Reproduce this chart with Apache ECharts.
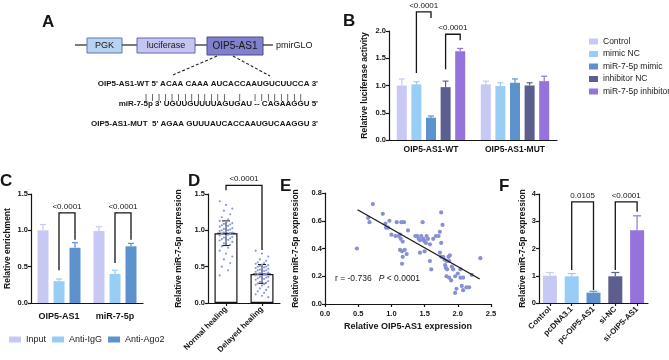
<!DOCTYPE html>
<html><head><meta charset="utf-8">
<script src="https://cdn.jsdelivr.net/npm/echarts@6/dist/echarts.min.js"></script>
<style>html,body{margin:0;padding:0;background:#fff}#c{width:669px;height:360px}</style>
</head><body><div id="c"></div>
<script>
const FF = "'Liberation Sans', Arial, Helvetica, sans-serif";
const INK = '#151515';

// ---------- Panel B : luciferase ----------
const bCategories = ['OIP5-AS1-WT', 'OIP5-AS1-MUT'];
const bGroups = ['Control', 'mimic NC', 'miR-7-5p mimic', 'inhibitor NC', 'miR-7-5p inhibitor'];
const bControl = [1.00, 1.02];
const bMimicNC = [1.02, 0.99];
const bMimic = [0.41, 1.05];
const bInhibitorNC = [0.97, 1.00];
const bInhibitor = [1.63, 1.08];
const bControlSD = [0.12, 0.06];
const bMimicNCSD = [0.05, 0.06];
const bMimicSD = [0.03, 0.07];
const bInhibitorNCSD = [0.11, 0.05];
const bInhibitorSD = [0.05, 0.09];
const bBrackets = [
  {catL: 0, l: 1, catR: 0, r: 2, top: 2.35, lEnd: 1.23, rEnd: 2.24, label: '<0.0001'},
  {catL: 0, l: 3, catR: 0, r: 4, top: 1.94, lEnd: 1.30, rEnd: 1.83, label: '<0.0001'}
];

// ---------- Panel C : RIP ----------
const cCategories = ['OIP5-AS1', 'miR-7-5p'];
const cGroups = ['Input', 'Anti-IgG', 'Anti-Ago2'];
const cInput = [1.00, 0.99];
const cAntiIgG = [0.30, 0.40];
const cAntiAgo2 = [0.76, 0.78];
const cInputSD = [0.08, 0.06];
const cAntiIgGSD = [0.03, 0.05];
const cAntiAgo2SD = [0.07, 0.04];
const cBrackets = [
  {catL: 0, l: 1, catR: 0, r: 2, top: 1.24, lEnd: 0.45, rEnd: 0.87, label: '<0.0001'},
  {catL: 1, l: 1, catR: 1, r: 2, top: 1.24, lEnd: 0.55, rEnd: 0.87, label: '<0.0001'}
];

// ---------- Panel D : patients ----------
const dCategories = ['Normal healing', 'Delayed healing'];
const dMeans = [0.96, 0.40];
const dSD = [0.17, 0.13];
const dNormalPoints = [1.40,1.35,1.30,1.27,1.22,1.18,1.15,1.13,1.12,1.10,1.09,1.08,1.07,1.06,1.05,1.04,1.03,1.02,1.01,1.00,1.00,0.99,0.98,0.97,0.97,0.96,0.95,0.94,0.93,0.92,0.91,0.90,0.89,0.88,0.87,0.86,0.85,0.84,0.82,0.80,0.78,0.76,0.72,0.68,0.64,0.60,0.55,0.50,0.45,0.38];
const dDelayedPoints = [0.72,0.68,0.64,0.60,0.58,0.56,0.55,0.54,0.53,0.52,0.51,0.50,0.50,0.49,0.48,0.48,0.47,0.46,0.45,0.45,0.44,0.43,0.42,0.42,0.41,0.40,0.40,0.39,0.38,0.37,0.36,0.36,0.35,0.34,0.33,0.32,0.31,0.30,0.29,0.28,0.27,0.26,0.25,0.24,0.22,0.20,0.18,0.16,0.14,0.12,0.10,0.08];
const dBrackets = [{catL: 0, l: 0, catR: 1, r: 0, top: 1.62, lEnd: 1.55, rEnd: 0.73, label: '<0.0001'}];

// ---------- Panel E : correlation ----------
const eOIP5 = [0.48,0.65,0.67,0.72,0.87,0.91,0.92,0.97,0.95,1.00,1.06,1.08,1.11,1.13,1.15,1.19,1.13,1.16,1.17,1.16,1.20,1.23,1.17,1.14,1.25,1.36,1.39,1.41,1.43,1.47,1.43,1.45,1.48,1.49,1.50,1.53,1.52,1.55,1.58,1.50,1.58,1.60,1.63,1.67,1.71,1.75,1.73,1.77,1.75,1.73,1.75,1.78,1.80,1.81,1.82,1.83,1.86,1.88,1.87,1.84,1.83,1.87,1.90,1.93,1.96,2.00,1.96,1.98,2.04,2.08,2.06,2.08,2.13,2.17,2.04,2.21,2.34,1.91];
const eMiR = [0.40,0.62,0.59,0.72,0.65,0.58,0.55,0.60,0.55,0.50,0.49,0.59,0.49,0.50,0.59,0.59,0.39,0.38,0.34,0.29,0.39,0.36,0.45,0.47,0.53,0.49,0.49,0.47,0.37,0.59,0.46,0.49,0.47,0.46,0.45,0.49,0.44,0.47,0.43,0.38,0.31,0.25,0.47,0.49,0.49,0.66,0.52,0.57,0.44,0.37,0.34,0.34,0.32,0.28,0.26,0.31,0.34,0.35,0.31,0.25,0.20,0.19,0.17,0.25,0.20,0.22,0.08,0.11,0.19,0.19,0.13,0.10,0.12,0.12,0.25,0.21,0.33,0.27];
const eFitX = [0.49, 2.33];
const eFitY = [0.68, 0.18];
const eStat = {r: '-0.736', p: '< 0.0001'};

// ---------- Panel F : overexpression / knockdown ----------
const fCategories = ['Control', 'pcDNA3.1', 'pc-OIP5-AS1', 'si-NC', 'si-OIP5-AS1'];
const fMeans = [1.00, 0.98, 0.38, 0.98, 2.67];
const fSD = [0.12, 0.10, 0.05, 0.14, 0.53];
const fBrackets = [
  {catL: 1, l: 0, catR: 2, r: 0, top: 3.71, lEnd: 1.21, rEnd: 0.48, label: '0.0105'},
  {catL: 3, l: 0, catR: 4, r: 0, top: 3.71, lEnd: 1.21, rEnd: 3.35, label: '<0.0001'}
];

const COLORS = ['#c8c8f5', '#98cdf6', '#5d92cc', '#5b5e8f', '#9572dc'];

// ---------- helpers ----------
function yAx(idx, min, max, interval, name, nameGap, dec) {
  return {type: 'value', gridIndex: idx, min, max, interval, name, nameLocation: 'middle', nameGap,
    nameTextStyle: {fontSize: 8.5, fontWeight: 'bold', color: INK, fontFamily: FF},
    axisLine: {show: true, lineStyle: {color: INK, width: 1.2}},
    axisTick: {show: true, length: 3, lineStyle: {color: INK, width: 1.2}},
    axisLabel: {fontSize: 7.5, fontWeight: 'bold', color: INK, fontFamily: FF, margin: 3,
      formatter: v => Number(v).toFixed(dec)},
    splitLine: {show: false}};
}
function xCat(idx, data, opts) {
  return Object.assign({type: 'category', gridIndex: idx, data,
    axisLine: {show: true, lineStyle: {color: INK, width: 1.2}},
    axisTick: {show: false},
    axisLabel: {fontSize: 8.5, fontWeight: 'bold', color: INK, fontFamily: FF, margin: 5, interval: 0},
    splitLine: {show: false}}, opts || {});
}
function errSeries(idx, means, sds, offset, color, capW, both, lw) {
  return {type: 'custom', xAxisIndex: idx, yAxisIndex: idx, silent: true, z: 3, clip: false,
    data: means.map((m, i) => [i, m, sds[i]]), encode: {x: 0, y: 1},
    renderItem(params, api) {
      const c = api.value(0), m = api.value(1), e = api.value(2);
      const mid = api.coord([c, m]);
      const top = api.coord([c, m + e]);
      const bot = api.coord([c, both ? m - e : m]);
      const x = mid[0] + offset;
      const st = {stroke: color, lineWidth: lw || 1.2};
      const ch = [
        {type: 'line', shape: {x1: x, y1: bot[1], x2: x, y2: top[1]}, style: st},
        {type: 'line', shape: {x1: x - capW, y1: top[1], x2: x + capW, y2: top[1]}, style: st}];
      if (both) ch.push({type: 'line', shape: {x1: x - capW, y1: bot[1], x2: x + capW, y2: bot[1]}, style: st});
      if (both) ch.push({type: 'line', shape: {x1: x - capW * 2.2, y1: mid[1], x2: x + capW * 2.2, y2: mid[1]}, style: st});
      return {type: 'group', children: ch};
    }};
}
function bracketSeries(idx, list, n, spacing) {
  return {type: 'custom', xAxisIndex: idx, yAxisIndex: idx, silent: true, z: 6, clip: false,
    data: list.map(b => [b.catL, b.top, b.l, b.catR, b.r, b.lEnd, b.rEnd]), encode: {x: 0, y: 1},
    renderItem(params, api) {
      const b = list[params.dataIndex];
      const off = i => (i - (n - 1) / 2) * spacing;
      const xL = api.coord([api.value(0), 0])[0] + off(api.value(2));
      const xR = api.coord([api.value(3), 0])[0] + off(api.value(4));
      const yT = api.coord([0, api.value(1)])[1];
      const yL = api.coord([0, api.value(5)])[1];
      const yR = api.coord([0, api.value(6)])[1];
      return {type: 'group', children: [
        {type: 'polyline', shape: {points: [[xL, yL], [xL, yT], [xR, yT], [xR, yR]]},
          style: {stroke: INK, lineWidth: 1.3, fill: 'none'}},
        {type: 'text', style: {text: b.label, x: (xL + xR) / 2, y: yT - 2,
          textAlign: 'center', textVerticalAlign: 'bottom', align: 'center', verticalAlign: 'bottom',
          font: '8px ' + FF, fill: INK}}]};
    }};
}
function pointsSeries(idx, cat, values, color) {
  return {type: 'custom', xAxisIndex: idx, yAxisIndex: idx, silent: true, z: 4,
    data: values.map(v => [cat, v]), encode: {x: 0, y: 1},
    renderItem(params, api) {
      const p = api.coord([api.value(0), api.value(1)]);
      const k = params.dataIndex;
      const dx = ((k * 3) % 7 - 3) * 2.1;
      return {type: 'circle', shape: {cx: p[0] + dx, cy: p[1], r: 1.1}, style: {fill: color}};
    }};
}

// ---------- layout ----------
const grids = [
  {left: 389, top: 31, width: 168, height: 109},   // B
  {left: 31, top: 194, width: 112, height: 109},   // C
  {left: 208, top: 194, width: 72, height: 109},   // D
  {left: 325, top: 193, width: 166, height: 111},  // E
  {left: 539, top: 194, width: 109, height: 109}   // F
];

const bW = 10, bSp = 14.6, cW = 11, cSp = 16;
const bMeansAll = [bControl, bMimicNC, bMimic, bInhibitorNC, bInhibitor];
const bSDAll = [bControlSD, bMimicNCSD, bMimicSD, bInhibitorNCSD, bInhibitorSD];
const cMeansAll = [cInput, cAntiIgG, cAntiAgo2];
const cSDAll = [cInputSD, cAntiIgGSD, cAntiAgo2SD];

const series = [];
bGroups.forEach((g, i) => {
  series.push({name: g, type: 'bar', xAxisIndex: 0, yAxisIndex: 0, data: bMeansAll[i],
    barWidth: bW, barGap: ((bSp - bW) / bW * 100) + '%', itemStyle: {color: COLORS[i]}, z: 2});
});
bGroups.forEach((g, i) => series.push(errSeries(0, bMeansAll[i], bSDAll[i], (i - 2) * bSp, COLORS[i], 3)));
series.push(bracketSeries(0, bBrackets, 5, bSp));

cGroups.forEach((g, i) => {
  series.push({name: g, type: 'bar', xAxisIndex: 1, yAxisIndex: 1, data: cMeansAll[i],
    barWidth: cW, barGap: ((cSp - cW) / cW * 100) + '%', itemStyle: {color: COLORS[i]}, z: 2});
});
cGroups.forEach((g, i) => series.push(errSeries(1, cMeansAll[i], cSDAll[i], (i - 1) * cSp, COLORS[i], 3)));
series.push(bracketSeries(1, cBrackets, 3, cSp));

series.push({type: 'bar', xAxisIndex: 2, yAxisIndex: 2, data: dMeans, barWidth: 23, z: 2,
  itemStyle: {color: '#ffffff', borderColor: INK, borderWidth: 1.2}});
series.push(pointsSeries(2, 0, dNormalPoints, '#8c9ad8'));
series.push(pointsSeries(2, 1, dDelayedPoints, '#8c9ad8'));
series.push(errSeries(2, dMeans, dSD, 0, INK, 4, true, 1));
series.push(bracketSeries(2, dBrackets, 1, 0));

series.push({type: 'scatter', xAxisIndex: 3, yAxisIndex: 3, symbolSize: 4.2,
  data: eOIP5.map((x, i) => [x, eMiR[i]]), itemStyle: {color: '#8890d4', opacity: 1}, z: 3});
series.push({type: 'line', xAxisIndex: 3, yAxisIndex: 3, symbol: 'none', silent: true,
  data: eFitX.map((x, i) => [x, eFitY[i]]), lineStyle: {color: INK, width: 1.2}, z: 4});

series.push({type: 'bar', xAxisIndex: 4, yAxisIndex: 4, barWidth: 14, z: 2,
  data: fMeans.map((v, i) => ({value: v, itemStyle: {color: COLORS[i]}}))});
series.push({type: 'custom', xAxisIndex: 4, yAxisIndex: 4, silent: true, z: 3, clip: false,
  data: fMeans.map((m, i) => [i, m, fSD[i]]), encode: {x: 0, y: 1},
  renderItem(params, api) {
    const c = api.value(0), m = api.value(1), e = api.value(2);
    const mid = api.coord([c, m]), top = api.coord([c, m + e]);
    const col = COLORS[params.dataIndex];
    return {type: 'group', children: [
      {type: 'line', shape: {x1: mid[0], y1: mid[1], x2: mid[0], y2: top[1]}, style: {stroke: col, lineWidth: 1.2}},
      {type: 'line', shape: {x1: mid[0] - 4, y1: top[1], x2: mid[0] + 4, y2: top[1]}, style: {stroke: col, lineWidth: 1.2}}]};
  }});
series.push(bracketSeries(4, fBrackets, 1, 0));

const xAxis = [
  xCat(0, bCategories),
  xCat(1, cCategories, {axisLabel: {fontSize: 9, fontWeight: 'bold', color: INK, fontFamily: FF, margin: 9, interval: 0}}),
  xCat(2, dCategories, {axisTick: {show: true, alignWithLabel: true, length: 3, lineStyle: {color: INK, width: 1.2}},
    axisLabel: {fontSize: 8, fontWeight: 'bold', color: INK, fontFamily: FF, margin: 5, rotate: 45, interval: 0}}),
  {type: 'value', gridIndex: 3, min: 0, max: 2.5, interval: 0.5, name: 'Relative OIP5-AS1 expression',
    nameLocation: 'middle', nameGap: 18, nameTextStyle: {fontSize: 9, fontWeight: 'bold', color: INK, fontFamily: FF},
    axisLine: {show: true, onZero: false, lineStyle: {color: INK, width: 1.2}},
    axisTick: {show: true, length: 3, lineStyle: {color: INK, width: 1.2}},
    axisLabel: {fontSize: 7.5, fontWeight: 'bold', color: INK, fontFamily: FF, margin: 6, formatter: v => Number(v).toFixed(1)},
    splitLine: {show: false}},
  xCat(4, fCategories, {axisTick: {show: true, alignWithLabel: true, length: 3, lineStyle: {color: INK, width: 1.2}},
    axisLabel: {fontSize: 8, fontWeight: 'bold', color: INK, fontFamily: FF, margin: 5, rotate: 45, interval: 0}})
];
const yAxis = [
  yAx(0, 0, 2, 0.5, 'Relative luciferase activity', 20, 1),
  yAx(1, 0, 1.5, 0.5, 'Relative enrichment', 19, 1),
  yAx(2, 0, 1.5, 0.5, 'Relative miR-7-5p expression', 25, 1),
  yAx(3, 0, 0.8, 0.2, 'Relative miR-7-5p expression', 25, 1),
  yAx(4, 0, 4, 1, 'Relative miR-7-5p expression', 12, 0)
];

// ---------- Panel A diagram & panel letters ----------
const letter = (t, x, y) => ({type: 'text', left: x, top: y, style: {text: t, font: 'bold 17px ' + FF, fill: INK}});
const txt = (t, x, y, font, align) => ({type: 'text', x, y, style: {text: t, font: font + ' ' + FF, fill: INK,
  textAlign: align || 'left', textVerticalAlign: 'middle', align: align || 'left', verticalAlign: 'middle'}});
const seg = (x1, y1, x2, y2, dash) => ({type: 'line', shape: {x1, y1, x2, y2},
  style: {stroke: '#222', lineWidth: dash ? 1.1 : 1.2, lineDash: dash ? [3, 2] : null}});
const box = (x, y, w, h, fill, stroke) => ({type: 'rect', shape: {x, y, width: w, height: h},
  style: {fill, stroke, lineWidth: 1}});

const graphic = [
  letter('A', 42, 14), letter('B', 343, 13), letter('C', 0, 173), letter('D', 188, 173),
  letter('E', 280, 178), letter('F', 499, 178),
  seg(75, 45, 87, 45), box(87, 38, 35, 15, '#b7d3f1', '#5a7aa6'), txt('PGK', 104.5, 45.5, '9px', 'center'),
  seg(122, 45, 137, 45), box(137, 38, 58, 15, '#c5c5f1', '#6464a6'), txt('luciferase', 166, 45.5, '9px', 'center'),
  seg(195, 45, 207, 45), box(207, 37, 56, 18, '#8080cc', '#4b4b8c'), txt('OIP5-AS1', 235, 46, '10px', 'center'),
  seg(263, 45, 273, 45), txt('pmirGLO', 276, 45.5, '9px', 'left'),
  seg(217, 56, 173, 75, true), seg(233, 56, 270, 76, true),
  txt("OIP5-AS1-WT 5' ACAA CAAA AUCACCAAUGUCUUCCA 3'", 318, 84, 'bold 8px', 'right'),
  txt('|  |  |  |  |  |  |  |  |  |  |  |  |      |      |  |  |  |  |  |  |  |', 145, 97, '8px', 'left'),
  txt("miR-7-5p 3' UGUUGUUUUAGUGAU -- CAGAAGGU 5'", 318, 104, 'bold 8px', 'right'),
  txt("OIP5-AS1-MUT  5' AGAA GUUUAUCACCAAUGUCAAGGU 3'", 318, 124, 'bold 8px', 'right'),
  {type: 'text', x: 335, y: 279, style: {text: '{n|r = ' + eStat.r + '   }{i|P}{n| ' + eStat.p + '}',
    textVerticalAlign: 'middle', verticalAlign: 'middle',
    rich: {n: {font: '8.5px ' + FF, fill: INK}, i: {font: 'italic 8.5px ' + FF, fill: INK}}}}
];

const chart = echarts.init(document.getElementById('c'), null, {renderer: 'canvas'});
chart.setOption({
  animation: false,
  backgroundColor: '#ffffff',
  textStyle: {fontFamily: FF},
  grid: grids,
  xAxis, yAxis, series, graphic,
  legend: [
    {data: bGroups, orient: 'vertical', left: 584, top: 32, itemWidth: 9, itemHeight: 6, itemGap: 3.5,
      icon: 'rect', textStyle: {fontSize: 8.5, color: '#222', fontFamily: FF}, selectedMode: false},
    {data: cGroups, orient: 'horizontal', left: 4, top: 330, itemWidth: 12, itemHeight: 6, itemGap: 6,
      icon: 'rect', textStyle: {fontSize: 9, color: '#222', fontFamily: FF}, selectedMode: false}
  ]
});
</script></body></html>
